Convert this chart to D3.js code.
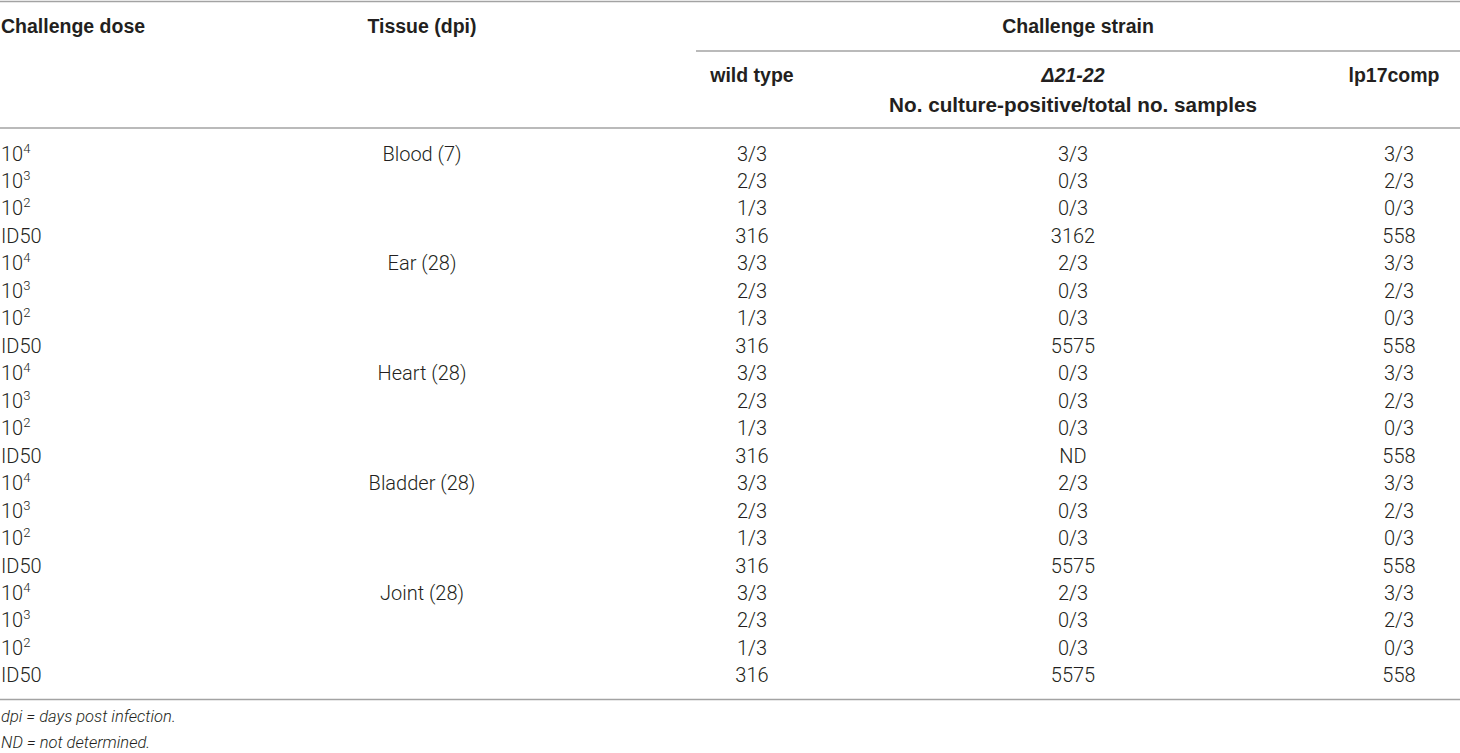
<!DOCTYPE html>
<html>
<head>
<meta charset="utf-8">
<script src="https://cdn.jsdelivr.net/npm/d3@7"></script>
<style>
  body { margin: 0; background: #fff; }
  svg { display: block; }
  .hd { font-family: "Liberation Sans", Arial, sans-serif; font-weight: bold; font-size: 19.5px; fill: #231f20; }
  .bd { font-family: Roboto, "Liberation Sans", sans-serif; font-weight: 300; font-size: 20px; fill: #231f20; }
  .fn { font-family: Roboto, "Liberation Sans", sans-serif; font-weight: 300; font-style: italic; font-size: 16.5px; fill: #231f20; }
</style>
</head>
<body>
<div class="tabla"></div>
<script>
var tissues = ["Blood (7)", "Ear (28)", "Heart (28)", "Bladder (28)", "Joint (28)"];
var doseExp = ["4", "3", "2", null];   // 10^exp, null -> ID50
var wildType = ["3/3","2/3","1/3","316", "3/3","2/3","1/3","316", "3/3","2/3","1/3","316", "3/3","2/3","1/3","316", "3/3","2/3","1/3","316"];
var delta2122 = ["3/3","0/3","0/3","3162", "2/3","0/3","0/3","5575", "0/3","0/3","0/3","ND", "2/3","0/3","0/3","5575", "2/3","0/3","0/3","5575"];
var lp17comp = ["3/3","2/3","0/3","558", "3/3","2/3","0/3","558", "3/3","2/3","0/3","558", "3/3","2/3","0/3","558", "3/3","2/3","0/3","558"];
var footnotes = ["dpi = days post infection.", "ND = not determined."];

var w = 1460;
var h = 753;

var svg = d3.select(".tabla").append("svg")
    .attr("width", w)
    .attr("height", h);

// rows
var nRows = wildType.length;
var y = d3.scaleLinear().domain([0, nRows - 1]).range([153.5, 675.4]);
var base = 7; // cap centre -> baseline

// column centres
var colX = d3.scaleOrdinal()
    .domain(["tissue", "wild", "delta", "lp17"])
    .range([422, 752, 1073, 1399]);

// rules
var rules = [
    {x1: 0, x2: w, y: 1.5},
    {x1: 696, x2: w, y: 51},
    {x1: 0, x2: w, y: 128},
    {x1: 0, x2: w, y: 699.5}
];
svg.selectAll("line.rule").data(rules).enter().append("line")
    .attr("class", "rule")
    .attr("x1", function(d){ return d.x1; })
    .attr("x2", function(d){ return d.x2; })
    .attr("y1", function(d){ return d.y; })
    .attr("y2", function(d){ return d.y; })
    .attr("stroke", "#a3a3a3")
    .attr("stroke-width", 1.6);

// header
var head = svg.append("g").attr("class", "hd");
head.append("text").attr("x", 1).attr("y", 33).text("Challenge dose");
head.append("text").attr("x", colX("tissue")).attr("y", 33).attr("text-anchor", "middle").text("Tissue (dpi)");
head.append("text").attr("x", 1078).attr("y", 33).attr("text-anchor", "middle").text("Challenge strain");
head.append("text").attr("x", colX("wild")).attr("y", 82).attr("text-anchor", "middle").text("wild type");
head.append("text").attr("x", colX("delta")).attr("y", 82).attr("text-anchor", "middle")
    .attr("font-style", "italic").text("\u039421-22");
head.append("text").attr("x", 1394).attr("y", 82).attr("text-anchor", "middle").text("lp17comp");
head.append("text").attr("x", colX("delta")).attr("y", 112).attr("text-anchor", "middle")
    .attr("font-size", "20.7px")
    .text("No. culture-positive/total no. samples");

var body = svg.append("g").attr("class", "bd");

// dose column
var doseCell = body.selectAll("text.dose").data(d3.range(nRows)).enter().append("text")
    .attr("class", "dose")
    .attr("x", 1)
    .attr("y", function(i){ return y(i) + base; });
doseCell.each(function(i){
    var e = doseExp[i % doseExp.length];
    var t = d3.select(this);
    if (e === null) {
        t.text("ID50");
    } else {
        t.append("tspan").text("10");
        t.append("tspan").attr("dy", -8).attr("font-size", "13px").text(e);
    }
});

// tissue column, one label per block
body.selectAll("text.tissue").data(tissues).enter().append("text")
    .attr("class", "tissue")
    .attr("x", colX("tissue"))
    .attr("y", function(d, i){ return y(i * doseExp.length) + base; })
    .attr("text-anchor", "middle")
    .text(function(d){ return d; });

// strain columns
var cols = [["wild", wildType], ["delta", delta2122], ["lp17", lp17comp]];
cols.forEach(function(c){
    body.selectAll("text." + c[0]).data(c[1]).enter().append("text")
        .attr("class", c[0])
        .attr("x", colX(c[0]))
        .attr("y", function(d, i){ return y(i) + base; })
        .attr("text-anchor", "middle")
        .text(function(d){ return d; });
});

// footnotes
svg.append("g").attr("class", "fn").selectAll("text").data(footnotes).enter().append("text")
    .attr("x", 1)
    .attr("y", function(d, i){ return 722 + i * 26; })
    .text(function(d){ return d; });
</script>
</body>
</html>
